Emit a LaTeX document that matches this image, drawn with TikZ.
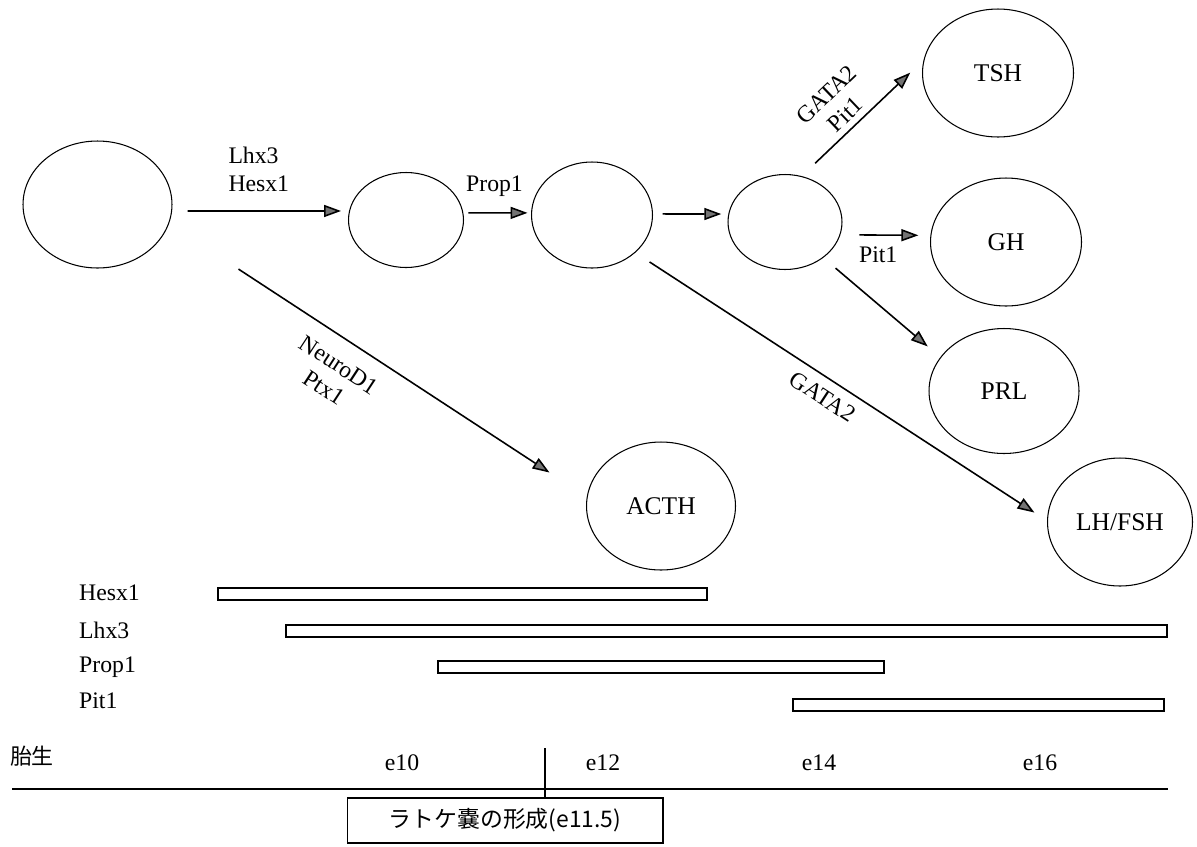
\documentclass[tikz,border=0pt]{standalone}
\usepackage{fontspec}
\setmainfont{Liberation Serif}
\newfontfamily\jpfont{Noto Sans CJK JP}
\usetikzlibrary{shapes.geometric, arrows.meta, positioning, calc}
\definecolor{tipgray}{RGB}{115,115,115}
\newcommand{\lblfont}{\fontsize{13.5}{15.5}\selectfont}
\tikzset{
  cell/.style={ellipse, draw, line width=0.6pt, inner sep=0pt},
  hormone/.style={cell, minimum width=3.0cm, minimum height=2.56cm,
    font=\fontsize{14.5}{17}\selectfont},
  arrow/.style={-{Triangle[length=0.34cm, width=0.24cm, fill=tipgray]},
    line width=0.9pt},
  bar/.style={draw, line width=0.8pt},
  genelbl/.style={anchor=base west},
  daylbl/.style={anchor=base},
  pouchbox/.style={draw, line width=0.6pt, minimum width=6.32cm,
    minimum height=0.9cm, font=\jpfont\fontsize{13}{15}\selectfont}
}

\begin{document}
\begin{tikzpicture}[x=0.02cm, y=-0.02cm, font=\lblfont]
  \useasboundingbox (0,0) rectangle (1197,846);

  % Progenitors
  \node[cell, minimum width=2.98cm, minimum height=2.54cm] (stem) at (97.5,204.5) {};
  \node[cell, minimum width=2.3cm, minimum height=1.9cm] (pouch) at (406,220) {};
  \node[cell, minimum width=2.42cm, minimum height=2.12cm] (progen) at (592,215) {};
  \node[cell, minimum width=2.28cm, minimum height=1.9cm] (lineage) at (785,222) {};

  % Hormone cells
  \node[hormone, minimum width=3.02cm] (tsh) at (998,73) {TSH};
  \node[hormone, minimum width=3.02cm] (gh) at (1006,242) {GH};
  \node[hormone, minimum height=2.5cm] (prl) at (1004,391) {PRL};
  \node[hormone, minimum width=2.98cm] (acth) at (661,506) {ACTH};
  \node[hormone, minimum width=2.9cm] (lhfsh) at (1120,522) {LH/FSH};

  % Arrows
  \draw[arrow, shorten <=0.31cm, shorten >=0.16cm] (stem.-5) -- (pouch.171)
    node[pos=0.49, above=0.26cm, align=left] {Lhx3\\Hesx1};
  \draw[arrow, shorten <=0.1cm, shorten >=0.07cm] (pouch.7) -- (progen.178)
    node[pos=0.46, above=0.2cm] {Prop1};
  \draw[arrow, shorten <=0.19cm, shorten >=0.14cm] (progen.1) -- (lineage.172);
  \draw[arrow, shorten <=0.37cm, shorten >=0.37cm] (lineage.70) -- (tsh.170)
    node[pos=0.44, sloped, above, align=center] {GATA2\\Pit1};
  \draw[arrow, shorten <=0.38cm, shorten >=0.24cm] (lineage.-13) -- (gh.175)
    node[pos=0.42, below=0.11cm] {Pit1};
  \draw[arrow, shorten <=0.32cm, shorten >=0.33cm] (lineage.-43) -- (prl.152);
  \draw[arrow, shorten <=0.34cm, shorten >=0.3cm] (progen.-41.5) -- (lhfsh.179)
    node[pos=0.48, sloped, below=0.08cm] {GATA2};
  \draw[arrow, shorten <=1.66cm, shorten >=0.89cm] (stem.-15) -- (acth.173)
    node[pos=0.44, sloped, below=0.21cm, align=center] {NeuroD1\\Ptx1};

  % Expression bars
  \node[genelbl] (hesx) at (73,600) {Hesx1};
  \node[genelbl] (lhx) at (73,638) {Lhx3};
  \node[genelbl] (prop) at (73,672) {Prop1};
  \node[genelbl] (pit) at (73,708) {Pit1};
  \draw[bar] (218,588) rectangle (707,600);
  \draw[bar] (286,625) rectangle (1167,637);
  \draw[bar] (438,661) rectangle (884,673);
  \draw[bar] (793,699) rectangle (1164,711);

  % Timeline
  \node[font=\jpfont\fontsize{12.5}{15}\selectfont] (stage) at (32,756) {胎生};
  \node[daylbl] (d10) at (402,770) {e10};
  \node[daylbl] (d12) at (603,770) {e12};
  \node[daylbl] (d14) at (819,770) {e14};
  \node[daylbl] (d16) at (1040,770) {e16};
  \draw[line width=0.8pt] (12,789) -- (1168,789);
  \node[pouchbox] (rathke) at (505,820.5) {ラトケ嚢の形成(e11.5)};
  \coordinate (e115) at (545,748);
  \draw[line width=0.6pt] (e115) -- (e115 |- rathke.north);
\end{tikzpicture}
\end{document}
